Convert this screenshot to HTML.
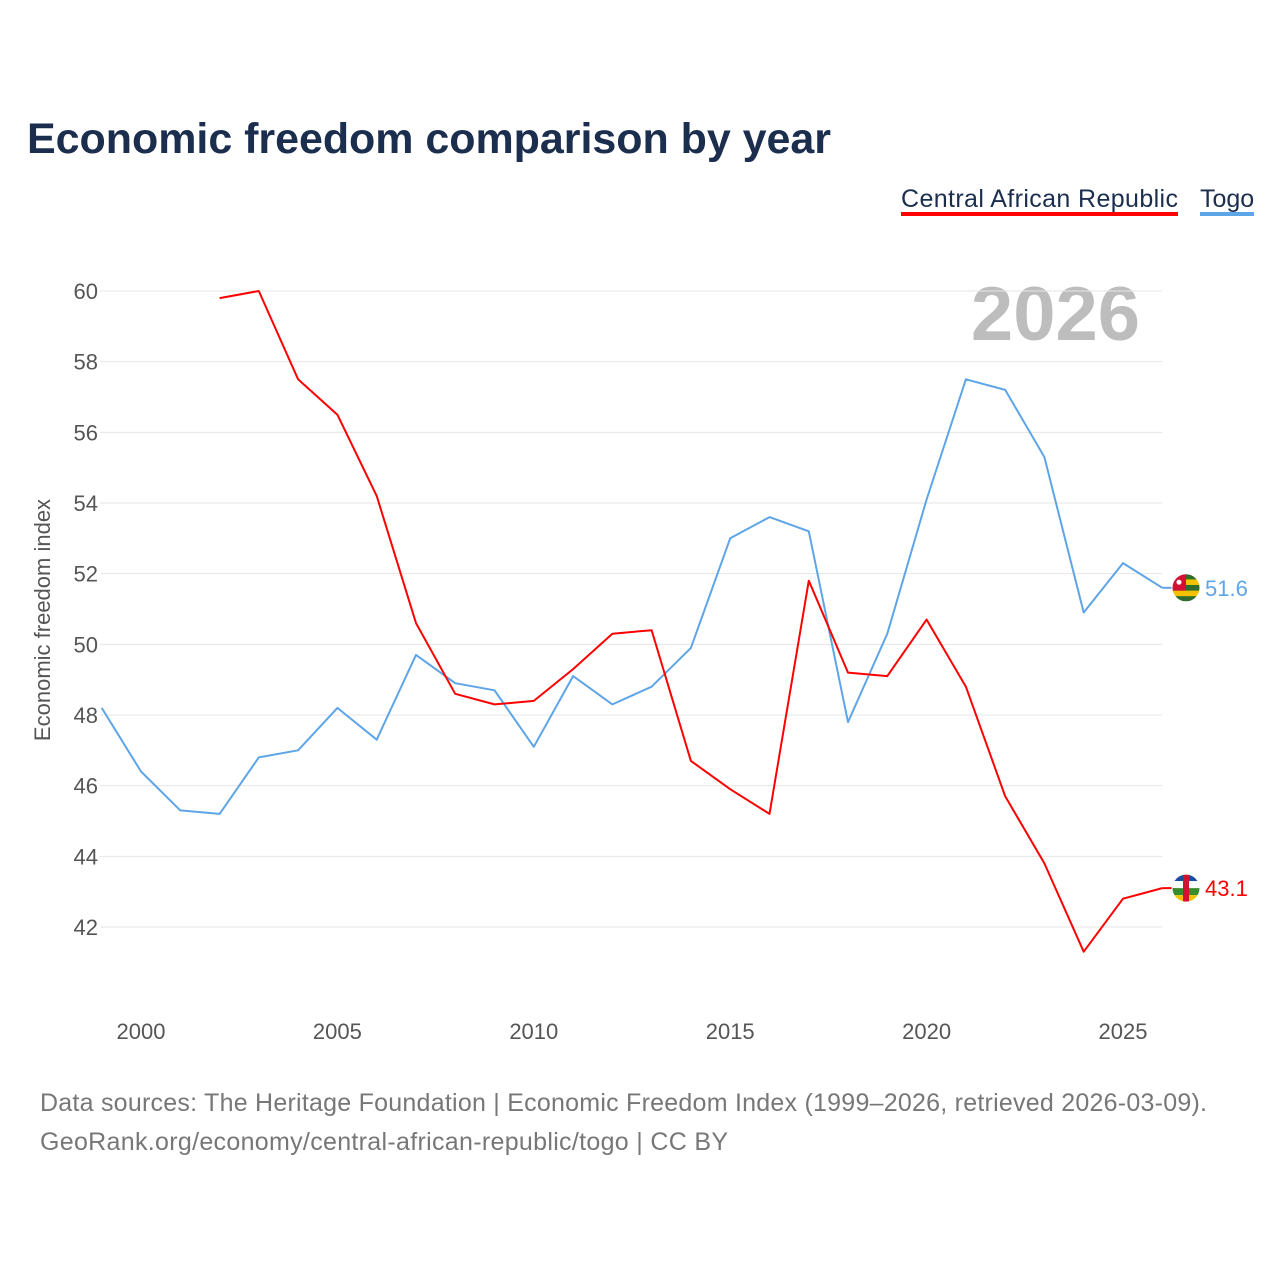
<!DOCTYPE html>
<html><head><meta charset="utf-8"><style>
body{margin:0;background:#fff;font-family:"Liberation Sans",sans-serif;}
svg text{font-family:"Liberation Sans",sans-serif;}
</style></head><body>
<svg width="1280" height="1280" id="chart">
<text x="27" y="153" font-size="43" font-weight="bold" fill="#1b2e4e" textLength="804">Economic freedom comparison by year</text>
<g>
<text x="901" y="207" font-size="25" fill="#1b2e4e" textLength="277">Central African Republic</text>
<rect x="901" y="212" width="277" height="4" fill="#f00"/>
<text x="1200" y="207" font-size="25" fill="#1b2e4e">Togo</text>
<rect x="1200" y="212" width="54" height="4" fill="#5ea5e8"/>
</g>
<text x="1140" y="340" font-size="76" font-weight="bold" fill="#bdbdbd" text-anchor="end">2026</text>
<text transform="translate(50,620) rotate(-90)" font-size="22" fill="#555" text-anchor="middle">Economic freedom index</text>
<g id="grid"></g><g id="lines"></g>
<text x="40" y="1111" font-size="25" fill="#777" textLength="1167">Data sources: The Heritage Foundation | Economic Freedom Index (1999–2026, retrieved 2026-03-09).</text>
<text x="40" y="1150" font-size="25" fill="#777" textLength="688">GeoRank.org/economy/central-african-republic/togo | CC BY</text>
</svg>
<script>
const years=[1999,2000,2001,2002,2003,2004,2005,2006,2007,2008,2009,2010,2011,2012,2013,2014,2015,2016,2017,2018,2019,2020,2021,2022,2023,2024,2025,2026];
const togo=[48.2,46.4,45.3,45.2,46.8,47.0,48.2,47.3,49.7,48.9,48.7,47.1,49.1,48.3,48.8,49.9,53.0,53.6,53.2,47.8,50.3,54.1,57.5,57.2,55.3,50.9,52.3,51.6];
const car=[null,null,null,59.8,60.0,57.5,56.5,54.2,50.6,48.6,48.3,48.4,49.3,50.3,50.4,46.7,45.9,45.2,51.8,49.2,49.1,50.7,48.8,45.7,43.8,41.3,42.8,43.1];
const yTicks=[42,44,46,48,50,52,54,56,58,60];
const xTicks=[2000,2005,2010,2015,2020,2025];
const NS="http://www.w3.org/2000/svg";
const X=v=>141+(v-2000)*39.28;
const Y=v=>927-(v-42)*35.333;
const grid=document.getElementById('grid'),lines=document.getElementById('lines');
function mk(tag,attrs,parent){const e=document.createElementNS(NS,tag);for(const k in attrs)e.setAttribute(k,attrs[k]);parent.appendChild(e);return e;}
yTicks.forEach(t=>{
 const l=mk('line',{x1:100,x2:1162,y1:Y(t),y2:Y(t),stroke:'#e6e6e6','stroke-width':1},grid);
 
 
 const tx=mk('text',{x:98,y:Y(t)+8,'font-size':22,fill:'#555','text-anchor':'end'},grid);tx.textContent=t;
 
 
});
xTicks.forEach(t=>{
 const tx=mk('text',{x:X(t),y:1039,'font-size':22,fill:'#555','text-anchor':'middle'},grid);tx.textContent=t;
 
 
});
function series(vals,color,name){
 const pts=[];vals.forEach((v,i)=>{if(v!=null)pts.push(X(years[i]).toFixed(1)+','+Y(v).toFixed(1));});
 const p=mk('polyline',{points:pts.join(' '),fill:'none',stroke:color,'stroke-width':2,'stroke-linejoin':'round'},lines);
 
 
 const last=vals[vals.length-1],ly=Y(last);
 mk('line',{x1:X(2026),x2:1176,y1:ly,y2:ly,stroke:color,'stroke-width':2},lines);
 const cp=mk('clipPath',{id:'clip-'+name},lines);
 mk('circle',{cx:1186,cy:ly,r:14},cp);
 const g=mk('g',{'clip-path':'url(#clip-'+name+')'},lines);
 
 
 if(name=='togo'){
  mk('rect',{x:1172,y:ly-14,width:28,height:28,fill:'#2e6b2e'},g);
  [ -8.4,-2.8+2.8,8.4-2.8].forEach(()=>{});
  mk('rect',{x:1172,y:ly-8.4,width:28,height:5.6,fill:'#f2c200'},g);
  mk('rect',{x:1172,y:ly+2.8,width:28,height:5.6,fill:'#f2c200'},g);
  mk('rect',{x:1172,y:ly-14,width:14,height:16.8,fill:'#d21034'},g);
  mk('circle',{cx:1179,cy:ly-5.6,r:2.5,fill:'#fff'},g);
 } else {
  mk('rect',{x:1172,y:ly-14,width:28,height:7,fill:'#1a4fa0'},g);
  mk('rect',{x:1172,y:ly-7,width:28,height:7,fill:'#fff'},g);
  mk('rect',{x:1172,y:ly,width:28,height:7,fill:'#3a8a2e'},g);
  mk('rect',{x:1172,y:ly+7,width:28,height:7,fill:'#f2c200'},g);
  mk('rect',{x:1183,y:ly-14,width:6,height:28,fill:'#d21034'},g);
 }
 mk('circle',{cx:1186,cy:ly,r:14,fill:'none',stroke:'#fff','stroke-width':1},lines);
 const t=mk('text',{x:1205,y:ly+8,'font-size':22,fill:color},lines);t.textContent=last.toFixed(1);
 
 
}
series(togo,'#5ea5e8','togo');
series(car,'#f00','car');
</script>
</body></html>
